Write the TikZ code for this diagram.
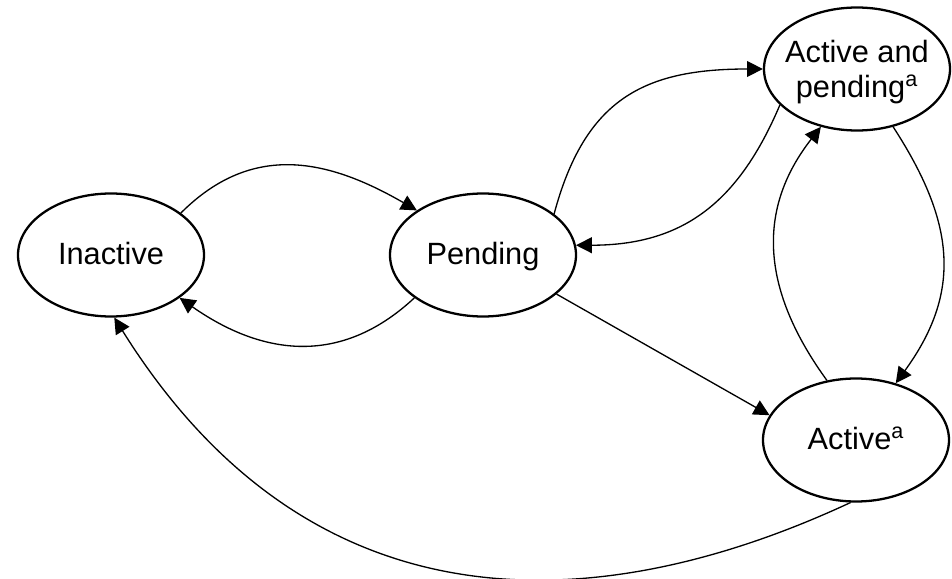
\documentclass[tikz,border=0pt]{standalone}
\usepackage{fontspec}
\setmainfont{Liberation Sans}
\usetikzlibrary{shapes.geometric, arrows.meta}

\begin{document}
\begin{tikzpicture}[
	state/.style={ellipse, draw, line width=1.3pt, minimum width=3.72cm, minimum height=2.46cm, inner sep=0pt, text height=0.4cm, text depth=0pt, font=\fontsize{17.5}{19.5}\selectfont},
	trans/.style={-{Triangle[length=9pt,width=9pt]}, line width=0.75pt}]
	\useasboundingbox (0,0) rectangle (19.04,-11.58);

	\node[state](ina) at (2.22,-5.10) {Inactive};
	\node[state](pen) at (9.66,-5.10) {Pending};
	\node[state, text height=0pt, text depth=0.24cm](actpen) at (17.14,-1.38) {\makebox[0pt]{\begin{tabular}[t]{@{}c@{}}Active and\\pending\textsuperscript{a}\end{tabular}}};
	\node[state](act) at (17.12,-8.80) {Active\textsuperscript{a}};

	\draw[trans](ina.31) to[out=45,in=150,looseness=1.1] (pen.146);
	\draw[trans](pen.-148) to[out=-137,in=-35,looseness=1.1] (ina.-32);
	\draw[trans](pen.30) to[out=75,in=180,looseness=1.2] (actpen.180);
	\draw[trans](actpen.-155) to[out=-113,in=0,looseness=1.1] (pen.6);
	\draw[trans](pen.-28) -- (act.164);
	\draw[trans](actpen.-58) to[out=-57,in=54,looseness=1.13] (act.55);
	\draw[trans](act.116) to[out=126,in=-128,looseness=1.09] (actpen.-122);
	\draw[trans](act.-95) to[out=-155,in=-58,out looseness=0.81,in looseness=1.35] (ina.-87);
\end{tikzpicture}
\end{document}
